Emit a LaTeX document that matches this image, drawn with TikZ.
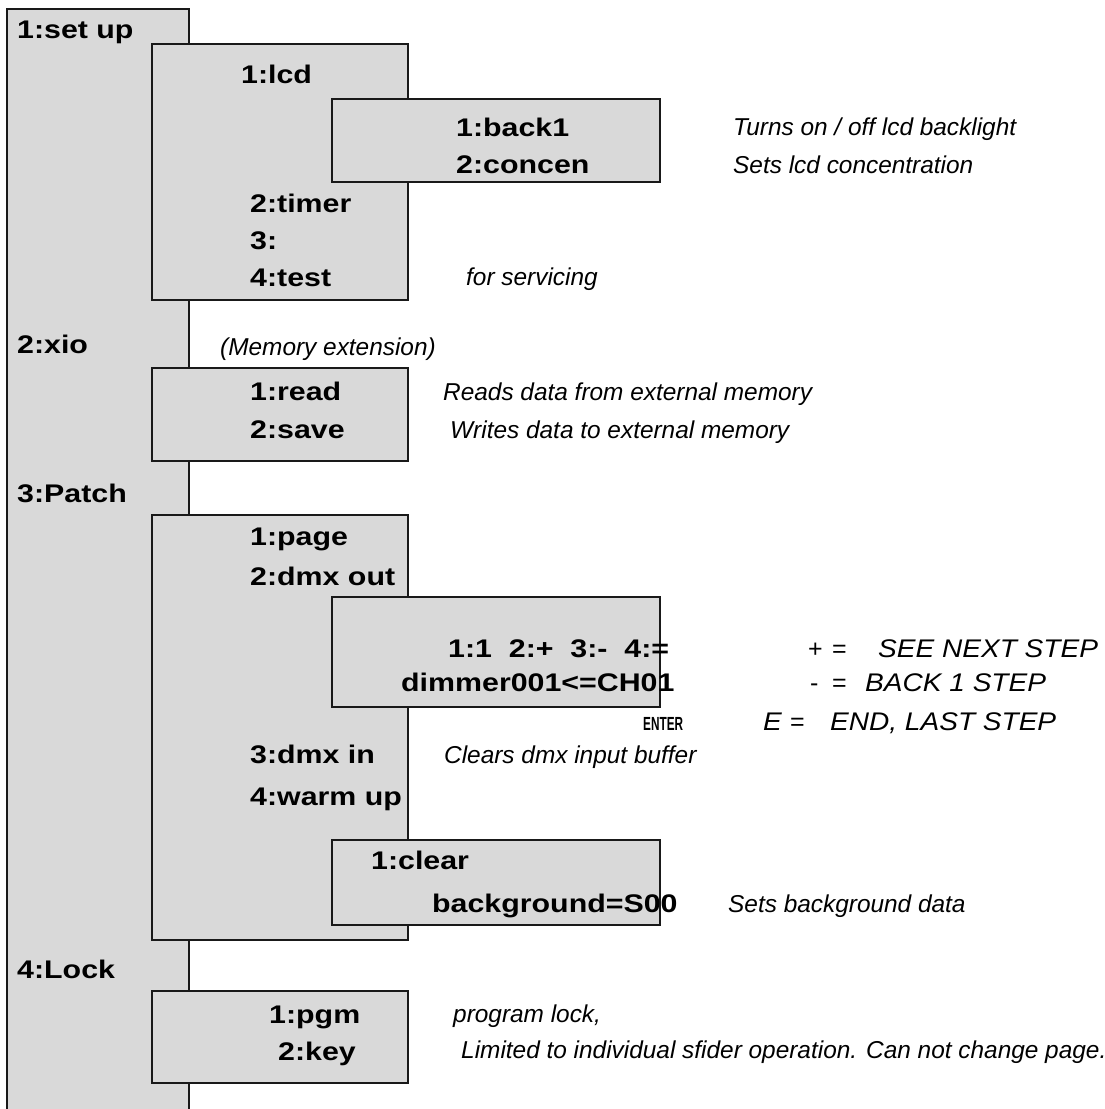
\documentclass[tikz,border=0pt]{standalone}
\usepackage{fontspec}
\setmainfont{Liberation Sans}
\newfontfamily\bxfont{Liberation Sans}[FakeStretch=1.19]
\newfontfamily\enfont{Liberation Sans}[FakeStretch=0.62]
\newfontfamily\capfont{Liberation Sans}[FakeStretch=1.1]
\definecolor{boxgray}{RGB}{217,217,217}
\definecolor{edge}{RGB}{25,25,25}
\tikzset{
  box/.style={draw=edge, fill=boxgray, line width=1.6pt},
  bt/.style={anchor=base west, inner sep=0pt, text=black,
    font=\bxfont\bfseries\fontsize{25.5}{29}\selectfont},
  it/.style={anchor=base west, inner sep=0pt, text=black,
    font=\itshape\fontsize{24.4}{28}\selectfont},
  capit/.style={anchor=base west, inner sep=0pt, text=black,
    font=\capfont\itshape\fontsize{25.5}{29}\selectfont},
  sym/.style={anchor=base west, inner sep=0pt, text=black,
    font=\fontsize{25}{29}\selectfont},
  entertext/.style={anchor=base west, inner sep=0pt, text=black,
    font=\enfont\bfseries\fontsize{19}{21}\selectfont}
}
\begin{document}
\begin{tikzpicture}[x=1pt,y=-1pt]
\useasboundingbox (0,0) rectangle (1105,1109);
\clip (0,0) rectangle (1105,1109);
\fill[white] (0,0) rectangle (1105,1109);
% boxes
\draw[box] (7,9) rectangle (189,1140);
\draw[box] (152,44) rectangle (408,300);
\draw[box] (332,99) rectangle (660,182);
\draw[box] (152,368) rectangle (408,461);
\draw[box] (152,515) rectangle (408,940);
\draw[box] (332,597) rectangle (660,707);
\draw[box] (332,840) rectangle (660,925);
\draw[box] (152,991) rectangle (408,1083);
% bold labels
\node[bt] (setup) at (17,38) {1:set up};
\node[bt] (lcd) at (241,83) {1:lcd};
\node[bt] (back) at (456,136) {1:back1};
\node[bt] (concen) at (456,173) {2:concen};
\node[bt] (timer) at (250,212) {2:timer};
\node[bt] (three) at (250,249) {3:};
\node[bt] (test) at (250,286) {4:test};
\node[bt] (xio) at (17,353) {2:xio};
\node[bt] (read) at (250,400) {1:read};
\node[bt] (save) at (250,438) {2:save};
\node[bt] (patch) at (17,502) {3:Patch};
\node[bt] (page) at (250,545) {1:page};
\node[bt] (dmxout) at (250,585) {2:dmx out};
\node[bt] (keys) at (448,657) {1:1~~2:+~~3:-~~4:=};
\node[bt] (dimmer) at (401,691) {dimmer001<=CH01};
\node[entertext] (enter) at (643,730) {ENTER};
\node[bt] (dmxin) at (250,763) {3:dmx in};
\node[bt] (warm) at (250,805) {4:warm up};
\node[bt] (clear) at (371,869) {1:clear};
\node[bt] (bg) at (432,912) {background=S00};
\node[bt] (lock) at (17,978) {4:Lock};
\node[bt] (pgm) at (269,1023) {1:pgm};
\node[bt] (key) at (278,1060) {2:key};
% italic notes
\node[it] (n1) at (733,135) {Turns on / off lcd backlight};
\node[it] (n2) at (733,173) {Sets lcd concentration};
\node[it] (n3) at (466,285) {for servicing};
\node[it] (n4) at (220,355) {(Memory extension)};
\node[it] (n5) at (443,400) {Reads data from external memory};
\node[it] (n6) at (450,438) {Writes data to external memory};
\node[it] (n7) at (444,763) {Clears dmx input buffer};
\node[it] (n8) at (728,912) {Sets background data};
\node[it] (n9) at (453,1022) {program lock,};
\node[it] (n10) at (461,1058) {Limited to individual sfider operation. Can not change page.};
% legend
\node[sym] (plus) at (808,657) {+};
\node[sym] (eqa) at (832,657) {=};
\node[capit] (see) at (878,657) {SEE NEXT STEP};
\node[sym] (minus) at (810,691) {-};
\node[sym] (eqb) at (832,691) {=};
\node[capit] (backstep) at (865,691) {BACK 1 STEP};
\node[capit] (ekey) at (763,730) {E};
\node[sym] (eqc) at (790,730) {=};
\node[capit] (endstep) at (830,730) {END, LAST STEP};
\end{tikzpicture}
\end{document}
